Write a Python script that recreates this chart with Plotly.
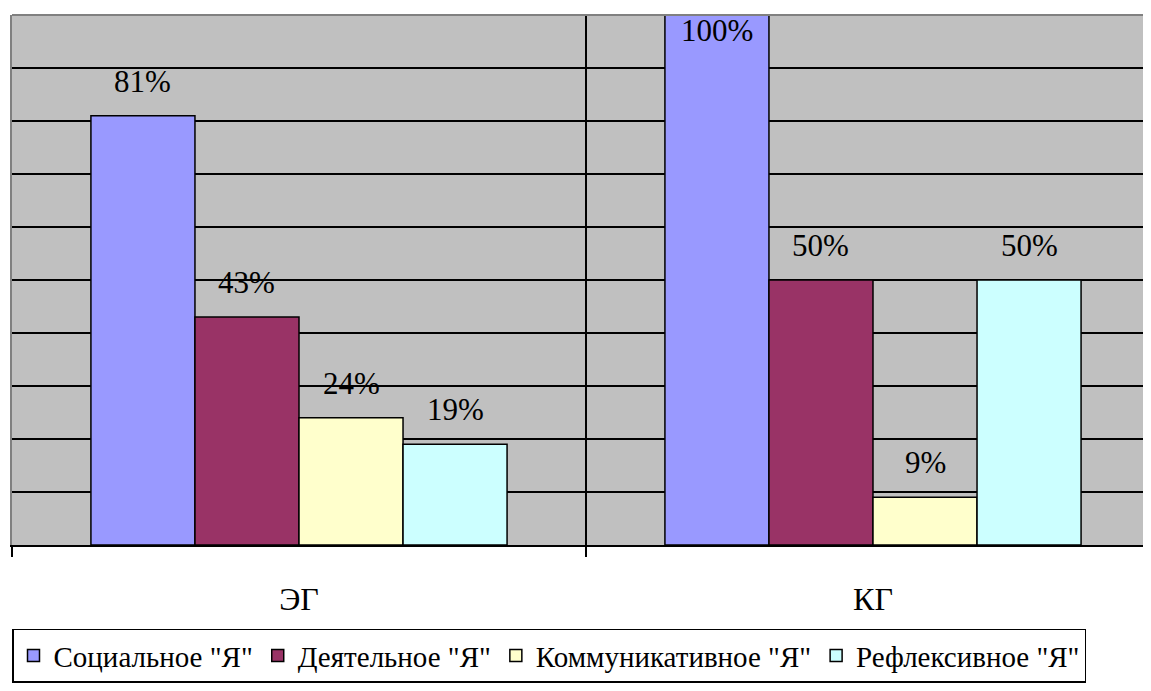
import plotly.graph_objects as go

categories = ["ЭГ", "КГ"]
series_names = ['Социальное "Я"', 'Деятельное "Я"', 'Коммуникативное "Я"', 'Рефлексивное "Я"']
social = [81, 100]
activity = [43, 50]
communicative = [24, 9]
reflexive = [19, 50]
colors = ["#9999FF", "#993366", "#FFFFCC", "#CCFFFF"]

series = [social, activity, communicative, reflexive]
FONT = "Liberation Serif"

fig = go.Figure()
for name, vals, col in zip(series_names, series, colors):
    fig.add_trace(go.Bar(
        x=categories, y=vals, name=name,
        marker=dict(color=col, line=dict(color="black", width=1.5)),
        hoverinfo="skip",
    ))

bargap = 0.275
group_w = 1 - bargap
bar_w = group_w / len(series)
annotations = []
for si, vals in enumerate(series):
    off = -group_w / 2 + (si + 0.5) * bar_w
    for ci, v in enumerate(vals):
        if v >= 95:
            annotations.append(dict(x=ci + off, y=100, xref="x", yref="y", text=f"{v}%",
                                    showarrow=False, yanchor="top", yshift=4,
                                    font=dict(family=FONT, size=31, color="black")))
        else:
            annotations.append(dict(x=ci + off, y=v, xref="x", yref="y", text=f"{v}%",
                                    showarrow=False, yanchor="bottom", yshift=15,
                                    font=dict(family=FONT, size=31, color="black")))

fig.update_layout(
    width=1135, height=675,
    margin=dict(l=4, r=0, t=7, b=138),
    paper_bgcolor="white", plot_bgcolor="#C0C0C0",
    barmode="group", bargap=bargap, bargroupgap=0,
    font=dict(family=FONT, size=30, color="black"),
    showlegend=True,
    legend=dict(orientation="h", x=0, xanchor="left", y=-0.158, yanchor="top",
                bordercolor="black", borderwidth=1.5, bgcolor="white",
                font=dict(family=FONT, size=29, color="black"),
                itemwidth=30, tracegroupgap=0),
    annotations=annotations,
    shapes=[dict(type="line", xref="paper", yref="paper", x0=0, x1=1, y0=1, y1=1,
                 line=dict(color="#808080", width=2), layer="above")],
)
fig.update_xaxes(
    type="category", range=[-0.5, 1.4704], tickson="boundaries",
    ticks="outside", ticklen=10, tickwidth=1.5, tickcolor="black",
    showline=True, linecolor="black", linewidth=2,
    showgrid=True, gridcolor="black", gridwidth=1.5,
    ticklabelstandoff=25, tickfont=dict(family=FONT, size=32, color="black"),
)
fig.update_yaxes(
    range=[0, 100], dtick=10, showticklabels=False, ticks="",
    showgrid=True, gridcolor="black", gridwidth=1.5, zeroline=False,
    showline=True, linecolor="#808080", linewidth=2,
)

fig.write_html("out.html")
